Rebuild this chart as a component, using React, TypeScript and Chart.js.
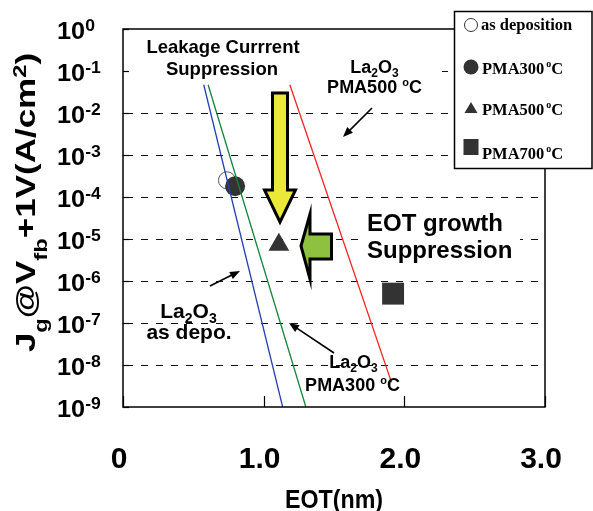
import React, { useEffect, useRef } from "react";
import { Chart, registerables } from "chart.js";

Chart.register(...registerables);

// ---------------- data ----------------
const xTickValues = [0, 1, 2, 3];
const xTickLabels = ["0", "1.0", "2.0", "3.0"];
const yTickExponents = [0, -1, -2, -3, -4, -5, -6, -7, -8, -9];
const yGridExponents = [-1, -2, -3, -4, -5, -6, -7, -8];

const seriesNames = ["as deposition", "PMA300", "PMA500", "PMA700"];
const eotNm = [0.739, 0.797, 1.108, 1.92];
const jgAcm2 = [2.5e-4, 1.8e-4, 7.3e-6, 5.0e-7];

const asDepoFitEot = [0.574, 1.135];
const asDepoFitJg = [4.7e-2, 1e-9];
const pma300FitEot = [0.605, 1.3];
const pma300FitJg = [4.7e-2, 1e-9];
const pma500FitEot = [1.186, 1.909];
const pma500FitJg = [4.7e-2, 3.85e-9];

// ---------------- drawing helpers ----------------
const SANS = '"Liberation Sans", Arial, sans-serif';
const SERIF = '"Liberation Serif", "Times New Roman", serif';

type Part = { t: string; s: number; dy?: number };

function rich(
  ctx: CanvasRenderingContext2D,
  parts: Part[],
  x: number,
  y: number,
  align: "left" | "center" | "right",
  family: string,
  sx = 1
) {
  ctx.save();
  ctx.translate(x, y);
  ctx.scale(sx, 1);
  ctx.textBaseline = "alphabetic";
  ctx.textAlign = "left";
  ctx.fillStyle = "#000";
  let w = 0;
  for (const p of parts) {
    ctx.font = `bold ${p.s}px ${family}`;
    w += ctx.measureText(p.t).width;
  }
  let cx = align === "left" ? 0 : align === "center" ? -w / 2 : -w;
  for (const p of parts) {
    ctx.font = `bold ${p.s}px ${family}`;
    ctx.fillText(p.t, cx, p.dy || 0);
    cx += ctx.measureText(p.t).width;
  }
  ctx.restore();
}

function lineArrow(ctx: CanvasRenderingContext2D, x1: number, y1: number, x2: number, y2: number) {
  const a = Math.atan2(y2 - y1, x2 - x1);
  const L = 10;
  const W = 4;
  const c = Math.cos(a);
  const s = Math.sin(a);
  ctx.save();
  ctx.strokeStyle = "#000";
  ctx.fillStyle = "#000";
  ctx.lineWidth = 1.6;
  ctx.beginPath();
  ctx.moveTo(x1, y1);
  ctx.lineTo(x2 - L * 0.8 * c, y2 - L * 0.8 * s);
  ctx.stroke();
  ctx.beginPath();
  ctx.moveTo(x2, y2);
  ctx.lineTo(x2 - L * c + W * s, y2 - L * s - W * c);
  ctx.lineTo(x2 - L * c - W * s, y2 - L * s + W * c);
  ctx.closePath();
  ctx.fill();
  ctx.restore();
}

function poly(ctx: CanvasRenderingContext2D, pts: number[][], fill: string, lw: number) {
  ctx.save();
  ctx.beginPath();
  ctx.moveTo(pts[0][0], pts[0][1]);
  for (let i = 1; i < pts.length; i++) ctx.lineTo(pts[i][0], pts[i][1]);
  ctx.closePath();
  ctx.fillStyle = fill;
  ctx.fill();
  ctx.lineWidth = lw;
  ctx.lineJoin = "miter";
  ctx.strokeStyle = "#000";
  ctx.stroke();
  ctx.restore();
}

const decorPlugin = {
  id: "decor",
  beforeDatasetsDraw(chart: any) {
    const ctx: CanvasRenderingContext2D = chart.ctx;
    const ys = chart.scales.y;
    const ca = chart.chartArea;
    ctx.save();
    ctx.strokeStyle = "#111";
    ctx.lineWidth = 1;
    ctx.setLineDash([7, 8]);
    for (const e of yGridExponents) {
      const y = Math.round(ys.getPixelForValue(Math.pow(10, e))) + 0.5;
      ctx.beginPath();
      ctx.moveTo(ca.left + 3, y);
      ctx.lineTo(ca.right, y);
      ctx.stroke();
    }
    ctx.restore();
    // white text-box backgrounds
    ctx.save();
    ctx.fillStyle = "#fff";
    ctx.fillRect(124, 30, 176, 55);
    ctx.fillRect(300, 45, 142, 53);
    ctx.fillRect(360, 205, 160, 60);
    ctx.restore();
  },
  afterDatasetsDraw(chart: any) {
    const ctx: CanvasRenderingContext2D = chart.ctx;
    const xs = chart.scales.x;
    const ys = chart.scales.y;
    const ca = chart.chartArea;

    // frame
    ctx.save();
    ctx.strokeStyle = "#000";
    ctx.lineWidth = 1.5;
    ctx.strokeRect(ca.left, ca.top, ca.right - ca.left, ca.bottom - ca.top);
    ctx.lineWidth = 1.2;
    for (const e of yTickExponents) {
      const y = Math.round(ys.getPixelForValue(Math.pow(10, e))) + 0.5;
      ctx.beginPath();
      ctx.moveTo(ca.left, y);
      ctx.lineTo(ca.left + 6, y);
      ctx.stroke();
    }
    for (const v of xTickValues) {
      const x = Math.round(xs.getPixelForValue(v)) + 0.5;
      ctx.beginPath();
      ctx.moveTo(x, ca.bottom);
      ctx.lineTo(x, ca.bottom - 11);
      ctx.stroke();
    }
    ctx.restore();

    // yellow arrow (down)
    poly(
      ctx,
      [
        [272.5, 93],
        [287.5, 93],
        [287.5, 190],
        [295.5, 190],
        [280, 222],
        [264.5, 190],
        [272.5, 190],
      ],
      "#EBE83A",
      3
    );
    // green arrow (left)
    poly(
      ctx,
      [
        [301, 246],
        [310, 214],
        [310, 234],
        [331.5, 234],
        [331.5, 259],
        [310, 259],
        [310, 279],
      ],
      "#8DC13F",
      3
    );

    // annotations
    rich(ctx, [{ t: "Leakage Currrent", s: 18.5 }], 223, 53, "center", SANS);
    rich(ctx, [{ t: "Suppression", s: 18.5 }], 222, 75, "center", SANS);

    const la = (s: number, sub: number, dy: number): Part[] => [
      { t: "La", s },
      { t: "2", s: sub, dy },
      { t: "O", s },
      { t: "3", s: sub, dy },
    ];
    rich(ctx, la(18, 12, 4), 374.5, 73, "center", SANS);
    rich(
      ctx,
      [
        { t: "PMA500 ", s: 18 },
        { t: "o", s: 11, dy: -7 },
        { t: "C", s: 18 },
      ],
      374.5,
      93,
      "center",
      SANS
    );
    lineArrow(ctx, 372, 108, 343, 137);

    rich(ctx, [{ t: "EOT growth", s: 24 }], 367, 231, "left", SANS);
    rich(ctx, [{ t: "Suppression", s: 24 }], 367, 258, "left", SANS);

    rich(ctx, la(21, 14, 5), 188.5, 318, "center", SANS);
    rich(ctx, [{ t: "as depo.", s: 21 }], 189, 339, "center", SANS);
    lineArrow(ctx, 210, 286, 240, 271);

    rich(ctx, la(18, 12, 4), 353.5, 368, "center", SANS);
    rich(
      ctx,
      [
        { t: "PMA300 ", s: 18 },
        { t: "o", s: 11, dy: -7 },
        { t: "C", s: 18 },
      ],
      352.5,
      391,
      "center",
      SANS
    );
    lineArrow(ctx, 334, 353, 289, 323);

    // y tick labels
    for (const e of yTickExponents) {
      const y = ys.getPixelForValue(Math.pow(10, e));
      rich(
        ctx,
        [
          { t: "10", s: 23 },
          { t: String(e), s: 16, dy: -8.5 },
        ],
        57,
        y + 10,
        "left",
        SANS,
        1.1
      );
    }
    // x tick labels
    xTickValues.forEach((v, i) => {
      const x = xs.getPixelForValue(v) - 4;
      rich(ctx, [{ t: xTickLabels[i], s: 30 }], x, 468, "center", SANS);
    });
    // x title
    rich(ctx, [{ t: "EOT(nm)", s: 25 }], 334, 508, "center", SANS, 0.93);
    // y title
    ctx.save();
    ctx.translate(35, 202.5);
    ctx.rotate(-Math.PI / 2);
    rich(
      ctx,
      [
        { t: "J", s: 28 },
        { t: "g", s: 19, dy: 12 },
        { t: "@V", s: 28 },
        { t: "fb", s: 19, dy: 12 },
        { t: "+1V(A/cm", s: 28 },
        { t: "2", s: 19, dy: -9 },
        { t: ")", s: 28 },
      ],
      0,
      0,
      "center",
      SANS,
      1.25
    );
    ctx.restore();
  },
  afterDraw(chart: any) {
    const ctx: CanvasRenderingContext2D = chart.ctx;
    // legend box
    ctx.save();
    ctx.fillStyle = "#fff";
    ctx.fillRect(454.5, 11.5, 138, 157);
    ctx.strokeStyle = "#000";
    ctx.lineWidth = 1.5;
    ctx.strokeRect(454.5, 11.5, 137.5, 157);
    const mx = 471;
    const rows = [25, 67, 108, 147];
    const baselines = [30, 74, 115, 159];
    // open circle
    ctx.beginPath();
    ctx.arc(mx, rows[0], 6.5, 0, Math.PI * 2);
    ctx.fillStyle = "#fff";
    ctx.fill();
    ctx.lineWidth = 1;
    ctx.strokeStyle = "#333";
    ctx.stroke();
    // filled circle
    ctx.beginPath();
    ctx.arc(mx, rows[1], 7.5, 0, Math.PI * 2);
    ctx.fillStyle = "#333";
    ctx.fill();
    // triangle
    ctx.beginPath();
    ctx.moveTo(mx, rows[2] - 6);
    ctx.lineTo(mx + 6.5, rows[2] + 5);
    ctx.lineTo(mx - 6.5, rows[2] + 5);
    ctx.closePath();
    ctx.fill();
    // square
    ctx.fillRect(mx - 7.5, rows[3] - 8, 15, 16);
    ctx.restore();

    seriesNames.forEach((name, i) => {
      if (i === 0) {
        rich(ctx, [{ t: name, s: 16.5 }], 481, baselines[i], "left", SERIF);
      } else {
        rich(
          ctx,
          [
            { t: name, s: 16.5 },
            { t: " ", s: 8 },
            { t: "o", s: 10, dy: -7 },
            { t: "C", s: 16.5 },
          ],
          482,
          baselines[i],
          "left",
          SERIF
        );
      }
    });
  },
};

function pts(xsArr: number[], ysArr: number[]) {
  return xsArr.map((x, i) => ({ x, y: ysArr[i] }));
}

export default function App() {
  const ref = useRef<HTMLCanvasElement>(null);

  useEffect(() => {
    if (!ref.current) return;
    const chart = new Chart(ref.current, {
      type: "scatter",
      data: {
        datasets: [
          {
            label: "markers",
            data: pts(eotNm, jgAcm2),
            pointStyle: ["circle", "circle", "triangle", "rect"],
            pointRadius: [8.5, 10, 12, 15.5],
            pointBackgroundColor: ["#ffffff", "#333333", "#333333", "#333333"],
            pointBorderColor: ["#555555", "#333333", "#333333", "#333333"],
            pointBorderWidth: [1, 0, 0, 0],
            showLine: false,
            order: 2,
          } as any,
          {
            label: "La2O3 as depo.",
            data: pts(asDepoFitEot, asDepoFitJg),
            showLine: true,
            borderColor: "#2540B0",
            borderWidth: 1.3,
            pointRadius: 0,
            fill: false,
            order: 1,
          },
          {
            label: "La2O3 PMA300",
            data: pts(pma300FitEot, pma300FitJg),
            showLine: true,
            borderColor: "#14853A",
            borderWidth: 1.3,
            pointRadius: 0,
            fill: false,
            order: 1,
          },
          {
            label: "La2O3 PMA500",
            data: pts(pma500FitEot, pma500FitJg),
            showLine: true,
            borderColor: "#F52222",
            borderWidth: 1.3,
            pointRadius: 0,
            fill: false,
            order: 1,
          },
        ],
      },
      options: {
        responsive: false,
        maintainAspectRatio: false,
        animation: false,
        events: [],
        layout: { padding: { left: 123, top: 29, right: 48, bottom: 104 } },
        scales: {
          x: { type: "linear", min: 0, max: 3, display: false },
          y: { type: "logarithmic", min: 1e-9, max: 1, display: false },
        },
        plugins: {
          legend: { display: false },
          tooltip: { enabled: false },
        },
      },
      plugins: [decorPlugin],
    });
    return () => chart.destroy();
  }, []);

  return (
    <div
      style={{
        position: "absolute",
        left: 0,
        top: 0,
        width: 593,
        height: 511,
        background: "#fff",
      }}
    >
      <canvas
        ref={ref}
        width={593}
        height={511}
        style={{ display: "block", width: 593, height: 511 }}
      />
    </div>
  );
}
